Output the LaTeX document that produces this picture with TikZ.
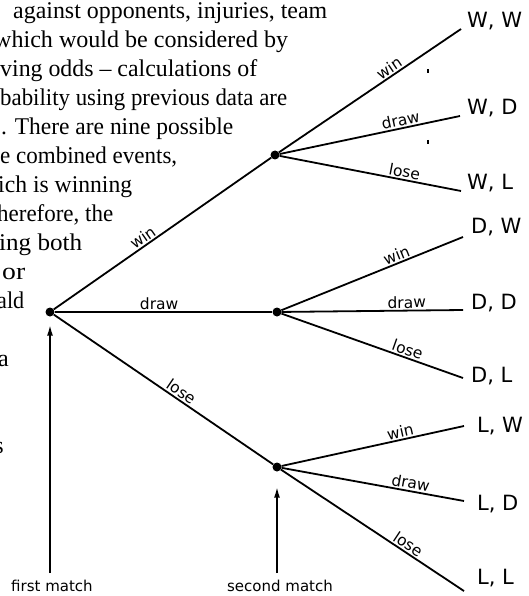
\documentclass[tikz,border=0pt]{standalone}
\usepackage{fontspec}
\usepackage{graphicx}
\setmainfont{Liberation Serif}
\newfontfamily\diagfont{DejaVu Sans}
\usetikzlibrary{arrows.meta}
\newcommand\fitline[2]{\resizebox{#1}{\height}{#2}}
\begin{document}
\begin{tikzpicture}[x=1pt,y=-1pt,
  branch/.style={line width=1.8pt},
  dotnode/.style={circle,fill=black,inner sep=0pt,minimum size=9pt},
  blab/.style={font=\diagfont\fontsize{15.5}{15.5}\selectfont, sloped, above, inner sep=1.5pt},
  leaf/.style={font=\diagfont\fontsize{21}{21}\selectfont, anchor=base west, inner sep=0pt},
  body/.style={font=\fontsize{24}{29}\selectfont, anchor=base west, inner sep=0pt},
  bodyr/.style={font=\fontsize{24}{29}\selectfont, anchor=base east, inner sep=0pt},
  ptr/.style={line width=1.8pt, -{Latex[length=11pt,width=6pt]}},
  caption/.style={font=\diagfont\fontsize{15}{15}\selectfont, anchor=base, inner sep=0pt},
  speck/.style={line width=1.2pt}
]
\useasboundingbox (0,0) rectangle (529,596);
\fill[white] (0,0) rectangle (529,596);
\begin{scope}
\clip (0,0) rectangle (529,596);
% page text (cut at the left edge)
\node[body] (t0) at (13,18.5) {\fitline{314pt}{against opponents, injuries, team}};
\node[body] (t1) at (-6,47.5) {\fitline{294pt}{which would be considered by}};
\node[body] (t2) at (0,76.5) {\fitline{257pt}{ving odds – calculations of}};
\node[body] (t3) at (0,105.5) {\fitline{287pt}{bability using previous data are}};
\node[body] (t4) at (1,134.5) {\fitline{232pt}{. There are nine possible}};
\node[body] (t5) at (0,163.5) {\fitline{177pt}{e combined events,}};
\node[body] (t6) at (-2,192.5) {\fitline{134pt}{ich is winning}};
\node[body] (t7) at (-3,221.5) {\fitline{116pt}{herefore, the}};
\node[body] (t8) at (-1,250.5) {\fitline{83pt}{ing both}};
\node[body] (t9) at (2,279.5) {\fitline{23pt}{or}};
\node[body] (t10) at (-3,308.5) {\fitline{27pt}{ald}};
\node[bodyr] (t12) at (9,366.5) {a};
\node[bodyr] (t15) at (4,453.5) {s};
\end{scope}

% decision points
\node[dotnode] (r) at (50,312) {};
\node[dotnode] (w) at (275,155) {};
\node[dotnode] (d) at (277,312) {};
\node[dotnode] (l) at (277,467) {};

% outcome ends
\coordinate (ww) at (461,29);
\coordinate (wd) at (460,116);
\coordinate (wl) at (461,191);
\coordinate (dw) at (463,237);
\coordinate (dd) at (463,310);
\coordinate (dl) at (463,378);
\coordinate (lw) at (464,426);
\coordinate (ld) at (464,501);
\coordinate (ll) at (464,591);

% first match branches
\draw[branch] (r) -- node[blab,pos=.43] {win} (w);
\draw[branch] (r) -- node[blab,pos=.48] {draw} (d);
\draw[branch] (r) -- node[blab,pos=.56] {lose} (l);

% second match branches
\draw[branch] (w) -- node[blab,pos=.63] {win} (ww);
\draw[branch] (w) -- node[blab,pos=.68] {draw} (wd);
\draw[branch] (w) -- node[blab,pos=.68] {lose} (wl);
\draw[branch] (d) -- node[blab,pos=.65] {win} (dw);
\draw[branch] (d) -- node[blab,pos=.69] {draw} (dd);
\draw[branch] (d) -- node[blab,pos=.68] {lose} (dl);
\draw[branch] (l) -- node[blab,pos=.66] {win} (lw);
\draw[branch] (l) -- node[blab,pos=.70] {draw} (ld);
\draw[branch] (l) -- node[blab,pos=.67] {lose} (ll);

% outcome labels
\node[leaf] (oww) at (467,27.7) {W, W};
\node[leaf] (owd) at (467,114.7) {W, D};
\node[leaf] (owl) at (467,189.7) {W, L};
\node[leaf] (odw) at (471,233.7) {D, W};
\node[leaf] (odd) at (471,309.7) {D, D};
\node[leaf] (odl) at (471,382.7) {D, L};
\node[leaf] (olw) at (477,432.7) {L, W};
\node[leaf] (old) at (477,510.7) {L, D};
\node[leaf] (oll) at (477,584.7) {L, L};

% pointers
\coordinate (a1) at (50,573);
\coordinate (a2) at (277,573);
\draw[ptr, shorten >=8pt] (a1) -- (r);
\draw[ptr, shorten >=15pt] (a2) -- (l);
\node[caption] (c1) at (52,591) {first match};
\node[caption] (c2) at (280,591) {second match};

% small specks
\draw[speck] (428,69.5) -- (428,73.5);
\draw[speck] (428,140) -- (428,144);
\end{tikzpicture}
\end{document}
